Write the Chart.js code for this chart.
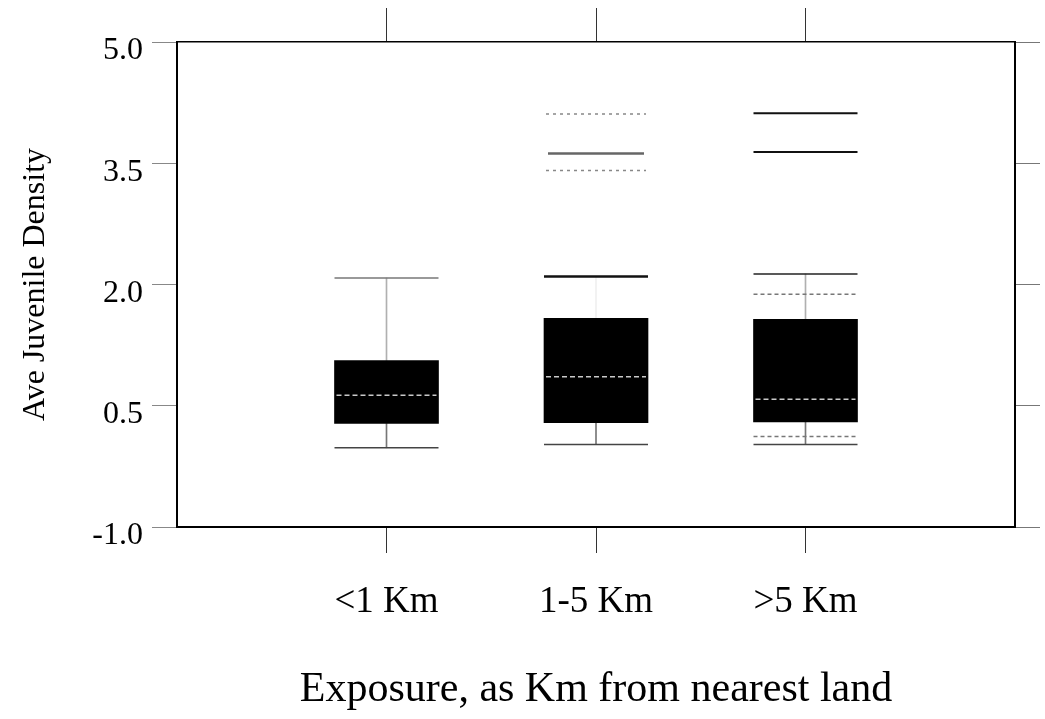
<!DOCTYPE html>
<html>
<head>
<meta charset="utf-8">
<script src="https://cdn.jsdelivr.net/npm/chart.js@4/dist/chart.umd.min.js"></script>
<style>
  html, body { margin: 0; padding: 0; background: #fff; }
  canvas { display: block; }
</style>
</head>
<body>
<canvas id="chart" width="1045" height="719"></canvas>
<script>
// Juvenile density by exposure class (box plot summaries)
const categories = ['<1 Km', '1-5 Km', '>5 Km'];
const yTicks = [-1.0, 0.5, 2.0, 3.5, 5.0];

const lowerWhisker = [-0.02, 0.02, 0.02];
const quartile1 = [0.28, 0.29, 0.30];
const medians = [0.63, 0.86, 0.58];
const quartile3 = [1.06, 1.58, 1.57];
const upperWhisker = [2.08, 2.10, 2.13];

// extreme values drawn as horizontal marks
const outliers1to5 = [4.11, 3.62, 3.41];
const outliersOver5 = [4.12, 3.64];
const innerMarksOver5 = [1.88, 0.12];

const SERIF = "'Liberation Serif', 'Times New Roman', serif";

// one empty slot on each side so the three classes sit at 1/4, 2/4, 3/4 of the axis
const labels = ['', ...categories, ''];
const pad = arr => [null, ...arr, null];
const at = (cat, values) => values.map(v => ({ x: cat, y: v }));

const tickColor = c => (labels[c.index] ? '#333' : 'rgba(0,0,0,0)');
const setTicks = s => { s.ticks = yTicks.map(v => ({ value: v })); };
const noPadding = s => {
  s.paddingLeft = 0; s.paddingRight = 0; s.paddingTop = 0; s.paddingBottom = 0;
};

// optional dash pattern for the horizontal mark datasets
const markDash = {
  id: 'markDash',
  beforeDatasetDraw(chart, args) {
    const ds = chart.data.datasets[args.index];
    chart.ctx.save();
    if (ds.markDash) chart.ctx.setLineDash(ds.markDash);
  },
  afterDatasetDraw(chart) {
    chart.ctx.restore();
  }
};

const hLine = (data, color, width, radius, order, dash) => ({
  type: 'line',
  data,
  showLine: false,
  pointStyle: 'line',
  pointRadius: radius,
  pointHoverRadius: radius,
  pointBorderColor: color,
  pointBackgroundColor: color,
  pointBorderWidth: width,
  pointHoverBorderWidth: width,
  order,
  markDash: dash
});

new Chart(document.getElementById('chart'), {
  type: 'bar',
  data: {
    labels,
    datasets: [
      // median
      hLine(pad(medians), '#c9c9c9', 1.5, 50, 0, [5, 3]),
      // interquartile box
      {
        type: 'bar',
        data: pad(categories.map((_, i) => [quartile1[i], quartile3[i]])),
        backgroundColor: '#000',
        borderWidth: 0,
        barThickness: 104,
        grouped: false,
        order: 2
      },
      // whiskers
      {
        type: 'bar',
        data: pad(categories.map((_, i) => [quartile3[i], upperWhisker[i]])),
        backgroundColor: pad(['#b0b0b0', '#f0f0f0', '#b0b0b0']),
        barThickness: 1,
        grouped: false,
        order: 3
      },
      {
        type: 'bar',
        data: pad(categories.map((_, i) => [lowerWhisker[i], quartile1[i]])),
        backgroundColor: '#777',
        barThickness: 1,
        grouped: false,
        order: 3
      },
      // whisker caps
      hLine(pad(upperWhisker), pad(['#777', '#111', '#222']), pad([1.5, 2.5, 1.5]), 52, 1),
      hLine(pad(lowerWhisker), '#444', 1.5, 52, 1),
      // extremes
      hLine(at(categories[1], [outliers1to5[0], outliers1to5[2]]), '#888', 1.5, 50, 1, [3, 4]),
      hLine(at(categories[1], [outliers1to5[1]]), '#666', 2.5, 48, 1),
      hLine(at(categories[2], outliersOver5), '#111', 2, 52, 1),
      hLine(at(categories[2], innerMarksOver5), '#777', 1.5, 52, 1, [4, 3])
    ]
  },
  options: {
    responsive: false,
    animation: false,
    devicePixelRatio: 1,
    layout: { autoPadding: false, padding: { top: 8, right: 5, bottom: 0, left: 0 } },
    plugins: {
      legend: { display: false },
      tooltip: { enabled: false }
    },
    scales: {
      x: {
        type: 'category',
        position: 'bottom',
        offset: false,
        grid: {
          offset: false,
          drawOnChartArea: false,
          drawTicks: true,
          tickLength: 26,
          tickWidth: 1,
          tickColor
        },
        border: { display: true, color: '#000', width: 2 },
        ticks: {
          color: '#000',
          font: { family: SERIF, size: 37 },
          padding: 27,
          maxRotation: 0,
          autoSkip: false
        },
        title: {
          display: true,
          text: 'Exposure, as Km from nearest land',
          color: '#000',
          font: { family: SERIF, size: 42 },
          padding: { top: 0, bottom: 4 }
        },
        afterFit: s => { noPadding(s); s.height = 192; }
      },
      xTop: {
        type: 'category',
        position: 'top',
        offset: false,
        grid: {
          offset: false,
          drawOnChartArea: false,
          tickLength: 34,
          tickWidth: 1,
          tickColor
        },
        border: { display: true, color: '#000', width: 1.5 },
        ticks: { display: false },
        afterFit: s => { noPadding(s); s.height = 34; }
      },
      y: {
        type: 'linear',
        position: 'left',
        min: yTicks[0],
        max: yTicks[yTicks.length - 1],
        afterBuildTicks: setTicks,
        grid: {
          drawOnChartArea: false,
          tickLength: 25,
          tickWidth: 1,
          tickColor: '#888'
        },
        border: { display: true, color: '#000', width: 2 },
        ticks: {
          color: '#000',
          font: { family: SERIF, size: 32 },
          padding: 9,
          labelOffset: 9,
          callback: v => Number(v).toFixed(1)
        },
        title: {
          display: true,
          text: 'Ave Juvenile Density',
          color: '#000',
          font: { family: SERIF, size: 32 },
          padding: { top: 16, bottom: 0 }
        },
        afterFit: s => { noPadding(s); s.width = 177; }
      },
      yRight: {
        type: 'linear',
        position: 'right',
        min: yTicks[0],
        max: yTicks[yTicks.length - 1],
        afterBuildTicks: setTicks,
        grid: {
          drawOnChartArea: false,
          tickLength: 25,
          tickWidth: 1,
          tickColor: '#777'
        },
        border: { display: true, color: '#000', width: 2 },
        ticks: { display: false },
        afterFit: s => { noPadding(s); s.width = 25; }
      }
    }
  },
  plugins: [markDash]
});
</script>
</body>
</html>
